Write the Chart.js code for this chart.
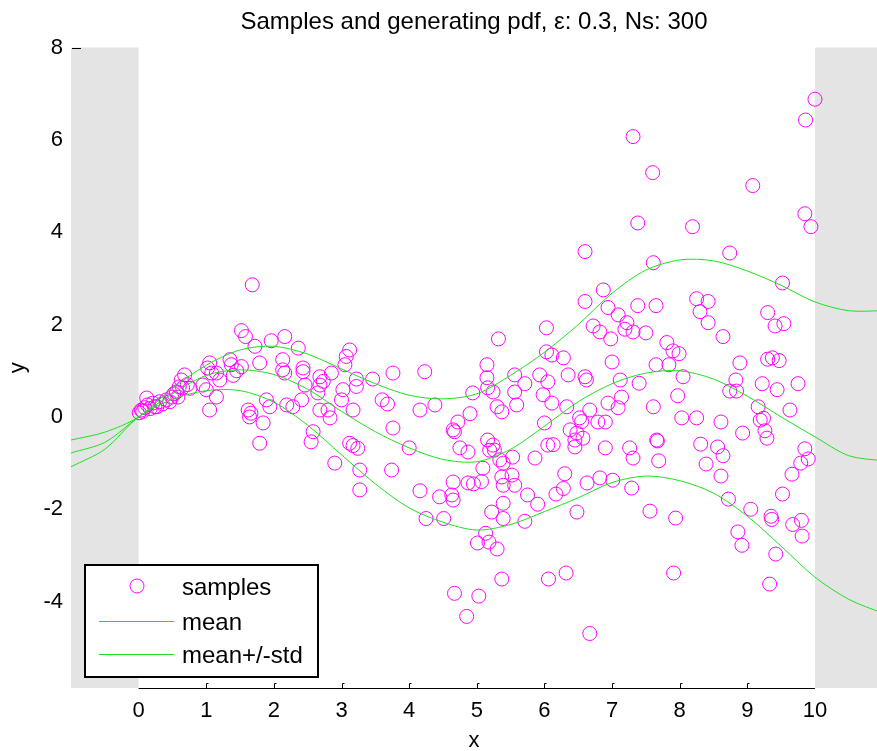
<!DOCTYPE html>
<html>
<head>
<meta charset="utf-8">
<script src="https://cdn.jsdelivr.net/npm/chart.js@4/dist/chart.umd.min.js"></script>
<style>
  html, body { margin: 0; padding: 0; background: #fff; overflow: hidden; }
  #wrap { width: 877px; height: 751px; position: relative; }
</style>
</head>
<body>
<div id="wrap"><canvas id="chart"></canvas></div>
<script>
// samples
const sampleX = [0.01,0.04,0.06,0.09,0.12,0.13,0.17,0.21,0.24,0.27,0.31,0.35,0.41,0.46,0.49,0.52,0.56,0.58,0.6,0.63,0.65,0.68,0.72,0.76,
  0.95,1.0,1.02,1.05,1.05,1.08,1.15,1.15,1.2,1.35,1.37,1.4,1.45,1.52,1.52,1.58,1.62,1.64,1.66,1.68,1.72,1.79,1.79,1.84,1.89,1.94,1.96,
  2.13,2.13,2.16,2.16,2.19,2.28,2.36,2.41,2.43,2.43,2.46,2.55,2.58,2.65,2.68,2.68,2.68,2.73,2.8,2.83,2.85,2.9,
  3.0,3.02,3.05,3.07,3.12,3.12,3.17,3.17,3.22,3.22,3.24,3.27,3.27,3.46,3.6,3.68,3.74,3.76,3.76,
  4.0,4.16,4.16,4.23,4.25,4.38,4.45,4.51,4.63,4.65,4.65,4.67,4.65,4.67,4.72,4.75,4.85,4.87,4.87,4.9,4.94,4.95,
  5.01,5.03,5.07,5.09,5.13,5.15,5.15,5.16,5.16,5.18,5.19,5.22,5.24,5.24,5.26,5.3,5.3,5.32,5.34,5.37,5.37,5.37,5.39,5.39,5.39,5.39,
  5.52,5.53,5.56,5.56,5.56,5.59,5.71,5.71,5.75,5.86,5.9,5.93,5.98,
  6.0,6.03,6.03,6.05,6.05,6.06,6.11,6.11,6.13,6.17,6.28,6.28,6.3,6.32,6.33,6.35,6.38,6.45,6.45,6.48,6.48,6.52,6.55,6.57,
  6.6,6.6,6.6,6.62,6.63,6.67,6.67,6.72,6.79,6.82,6.82,6.87,6.9,6.9,6.94,6.94,6.98,
  7.0,7.01,7.09,7.09,7.12,7.14,7.19,7.22,7.26,7.29,7.31,7.31,7.31,7.38,7.38,7.4,7.5,7.56,7.6,7.61,7.61,7.65,7.65,7.66,7.67,7.69,
  7.81,7.84,7.9,7.91,7.94,7.97,7.99,
  8.03,8.05,8.19,8.25,8.25,8.3,8.31,8.39,8.42,8.42,8.56,8.61,8.61,8.64,8.64,8.72,8.74,8.74,8.83,8.84,8.86,8.89,8.92,8.93,
  9.05,9.08,9.16,9.19,9.22,9.24,9.26,9.29,9.3,9.3,9.33,9.35,9.36,9.37,9.41,9.42,9.44,9.47,9.52,9.52,9.54,9.63,9.66,9.67,
  9.75,9.79,9.8,9.81,9.85,9.85,9.86,9.9,9.94,10.0];
const sampleY = [0.09,0.15,0.12,0.2,0.41,0.26,0.18,0.3,0.22,0.22,0.33,0.28,0.37,0.33,0.43,0.5,0.54,0.43,0.65,0.8,0.63,0.91,0.7,0.62,
  0.69,0.59,1.06,1.17,0.15,0.95,0.43,0.95,0.8,1.24,1.13,0.9,1.0,1.09,1.87,1.74,0.15,0.0,0.08,2.86,1.53,1.17,-0.57,-0.13,0.37,0.22,1.65,
  1.24,1.02,0.95,1.74,0.26,0.22,1.49,0.37,1.06,0.98,0.69,-0.54,-0.32,0.52,0.87,0.69,0.15,0.77,0.15,-0.02,0.95,-1.0,
  0.37,0.59,1.13,1.31,1.45,-0.57,0.15,-0.62,0.66,0.82,-0.68,-1.15,-1.58,0.82,0.37,0.28,-1.15,-0.24,0.95,
  -0.67,0.15,-1.6,0.98,-2.2,0.26,-1.73,-2.2,-1.69,-1.8,-0.28,-0.32,-1.41,-3.82,-0.11,-0.67,-4.32,-0.76,-1.43,0.07,0.52,-1.45,
  -2.73,-3.88,-1.4,-1.11,-2.52,1.13,0.85,0.63,-0.5,-2.71,-0.72,-2.06,0.54,-0.61,-0.72,0.22,-2.86,1.69,-0.93,0.11,-1.3,-3.51,-1.0,-1.48,-1.87,-2.2,
  -1.26,-0.87,0.91,0.54,-1.48,0.26,0.72,-2.26,-1.69,-0.89,-1.89,0.91,0.48,
  -0.13,1.93,1.41,0.76,-0.61,-3.51,1.34,0.3,-0.6,-1.67,1.28,-1.55,-1.23,-3.38,0.22,0.91,-0.28,-0.5,-0.65,-0.35,-2.06,-0.02,-0.1,-0.46,
  3.58,2.5,0.87,0.8,-1.43,0.15,-4.69,1.97,-0.11,1.84,-1.32,2.75,-0.11,-0.67,2.37,0.3,1.69,
  1.19,-1.37,2.21,0.2,0.8,0.43,1.9,2.04,-0.67,-1.54,1.84,-0.89,6.07,4.2,2.41,0.73,1.82,-2.04,5.29,3.34,0.22,2.41,1.13,-0.5,-0.52,-0.95,
  1.61,1.13,1.43,-3.38,-2.19,0.46,1.37,
  -0.02,0.87,4.12,2.56,-0.02,2.28,-0.59,-1.02,2.5,2.04,-0.65,-0.11,-1.28,1.74,-0.84,-1.78,3.55,0.56,0.8,0.56,-2.49,1.17,-2.78,-0.35,
  -2.0,5.01,0.22,-0.07,0.72,-0.03,-0.3,-0.46,2.26,1.25,-3.62,-2.15,-2.22,1.28,1.97,-2.97,0.59,1.22,2.9,-1.67,2.02,0.15,-1.24,-2.33,
  0.72,-1.0,-2.24,-2.58,4.4,-0.69,6.43,-0.91,4.12,6.88];

// generating pdf curves
const curveX = [-1,-0.5,0,0.5,1,1.5,2,2.5,3,3.5,4,4.5,5,5.5,6,6.5,7,7.5,8,8.5,9,9.5,10,10.5,11];
const upperY = [-0.5,-0.33,0,0.62,1.12,1.45,1.53,1.36,1.04,0.72,0.47,0.39,0.5,0.9,1.4,2.0,2.68,3.18,3.4,3.38,3.16,2.85,2.49,2.3,2.3];
const meanY = [-0.78,-0.55,0,0.5,0.9,1.02,0.92,0.6,0.12,-0.32,-0.67,-0.92,-0.97,-0.7,-0.2,0.33,0.72,0.95,1.0,0.82,0.45,0.0,-0.43,-0.84,-0.95];
const lowerY = [-1.08,-0.7,0,0.38,0.57,0.57,0.32,-0.18,-0.82,-1.45,-1.97,-2.28,-2.45,-2.33,-2.05,-1.75,-1.42,-1.28,-1.38,-1.65,-2.15,-2.8,-3.47,-3.95,-4.25];

const xTicks = [0,1,2,3,4,5,6,7,8,9,10];
const yTicks = [-4,-2,0,2,4,6,8];
const support = [0, 10];

const FONT = 'Liberation Sans, Arial, Helvetica, sans-serif';
const GREEN = '#1ee01e';
const MAGENTA = '#ff00ff';

function pts(xs, ys) { return xs.map((x, i) => ({ x: x, y: ys[i] })); }

const matlabLook = {
  id: 'matlabLook',
  beforeDatasetsDraw(chart) {
    const { ctx, chartArea: a, scales: { x } } = chart;
    ctx.save();
    ctx.fillStyle = '#e4e4e4';
    const x0 = x.getPixelForValue(support[0]);
    const x1 = x.getPixelForValue(support[1]);
    ctx.fillRect(a.left, a.top, x0 - a.left, a.bottom - a.top);
    ctx.fillRect(x1, a.top, a.right - x1, a.bottom - a.top);
    ctx.restore();
  },
  afterDraw(chart) {
    const { ctx, chartArea: a, scales: { x, y } } = chart;
    ctx.save();
    // bottom axis only over the support
    ctx.strokeStyle = '#000';
    ctx.lineWidth = 1;
    const xa = x.getPixelForValue(support[0]);
    const xb = x.getPixelForValue(support[1]);
    const yb = Math.round(a.bottom) + 0.5;
    ctx.beginPath();
    ctx.moveTo(xa, yb);
    ctx.lineTo(xb, yb);
    xTicks.forEach(v => {
      if (v <= support[0] || v >= support[1]) return;
      const px = Math.round(x.getPixelForValue(v)) + 0.5;
      ctx.moveTo(px, yb);
      ctx.lineTo(px, yb - 5);
      ctx.lineTo(px + 2, yb - 5);
    });
    // small tick at top of y axis
    const yt = Math.round(y.getPixelForValue(8)) + 0.5;
    ctx.moveTo(a.left + 1, yt);
    ctx.lineTo(a.left + 10, yt);
    ctx.stroke();

    // legend
    const lx = Math.round(a.left) + 14, ly = Math.round(a.top) + 517, lw = 233, lh = 112;
    ctx.fillStyle = '#fff';
    ctx.fillRect(lx, ly, lw, lh);
    ctx.lineWidth = 2;
    ctx.strokeStyle = '#000';
    ctx.strokeRect(lx, ly, lw, lh);
    ctx.font = '24px ' + FONT;
    ctx.textBaseline = 'middle';
    const rows = [ly + 21, ly + 56, ly + 89];
    ctx.lineWidth = 1;
    ctx.strokeStyle = MAGENTA;
    ctx.beginPath();
    ctx.arc(lx + 52, rows[0], 7, 0, Math.PI * 2);
    ctx.stroke();
    ctx.fillStyle = GREEN;
    ctx.fillRect(lx + 14, rows[1], 75, 1);
    ctx.fillRect(lx + 14, rows[2], 75, 1);
    ctx.fillStyle = '#000';
    ctx.fillText('samples', lx + 97, rows[0] + 2);
    ctx.fillText('mean', lx + 97, rows[1] + 2);
    ctx.fillText('mean+/-std', lx + 97, rows[2] + 2);
    ctx.restore();
  }
};

new Chart(document.getElementById('chart'), {
  type: 'scatter',
  data: {
    datasets: [
      { label: 'mean', data: pts(curveX, meanY), showLine: true, borderColor: GREEN, borderWidth: 1,
        pointRadius: 0, tension: 0.3, order: 0 },
      { label: 'mean+/-std', data: pts(curveX, upperY), showLine: true, borderColor: GREEN, borderWidth: 1,
        pointRadius: 0, tension: 0.3, order: 0 },
      { label: 'mean-std', data: pts(curveX, lowerY), showLine: true, borderColor: GREEN, borderWidth: 1,
        pointRadius: 0, tension: 0.3, order: 0 },
      { label: 'samples', data: pts(sampleX, sampleY), borderColor: MAGENTA, backgroundColor: 'rgba(0,0,0,0)',
        borderWidth: 1, pointRadius: 7, pointHoverRadius: 7, order: 1 }
    ]
  },
  options: {
    responsive: true,
    maintainAspectRatio: false,
    animation: false,
    devicePixelRatio: 1,
    layout: { padding: 0, autoPadding: false },
    plugins: {
      legend: { display: false },
      tooltip: { enabled: false },
      title: {
        display: true,
        fullSize: false,
        text: 'Samples and generating pdf, \u03b5: 0.3, Ns: 300',
        color: '#000',
        font: { family: FONT, size: 24, weight: 'normal' },
        padding: { top: 7.6, bottom: 11.1 }
      }
    },
    scales: {
      x: {
        type: 'linear', min: -1, max: 10.917,
        afterBuildTicks: s => { s.ticks = xTicks.map(v => ({ value: v })); },
        afterFit: s => { s.height = 63; },
        grid: { display: false, drawTicks: false }, border: { display: false },
        ticks: { color: '#000', font: { family: FONT, size: 22 }, padding: 10, maxRotation: 0, autoSkip: false },
        title: { display: true, text: 'x', color: '#000', font: { family: FONT, size: 22 }, padding: { top: 0, bottom: -3 } }
      },
      y: {
        type: 'linear', min: -5.87, max: 8,
        afterBuildTicks: s => { s.ticks = yTicks.map(v => ({ value: v })); },
        afterFit: s => { s.width = 71; },
        grid: { display: false, drawTicks: false }, border: { display: false },
        ticks: { color: '#000', font: { family: FONT, size: 22 }, padding: 8 },
        title: { display: true, text: 'y', color: '#000', font: { family: FONT, size: 22 }, padding: { top: 5, bottom: 0 } }
      }
    }
  },
  plugins: [matlabLook]
});
</script>
</body>
</html>
